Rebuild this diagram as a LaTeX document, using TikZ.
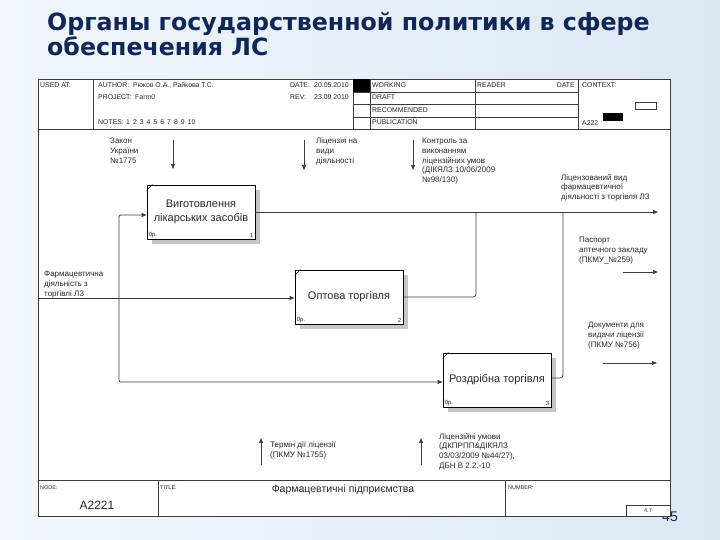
\documentclass[tikz,border=0pt]{standalone}
\usepackage{fontspec}
\setmainfont{Liberation Sans}
\newfontfamily\titlefont{DejaVu Sans}
\usetikzlibrary{arrows.meta,calc,shadows}
\definecolor{bgA}{RGB}{242,246,251}
\definecolor{bgB}{RGB}{221,231,244}
\definecolor{navy}{RGB}{14,38,88}
\definecolor{ln}{RGB}{60,60,60}
\definecolor{tx}{RGB}{40,40,40}
\tikzset{
  func/.style={draw=black, line width=0.9pt, fill=white, minimum width=108pt, minimum height=54pt,
    inner sep=0pt, align=center, font=\fontsize{11}{14}\selectfont, text=tx,
    drop shadow={shadow xshift=5pt, shadow yshift=-5pt, fill=gray!45, opacity=1}},
  lbl/.style={font=\fontsize{8}{9.7}\selectfont, align=left, text=tx, inner sep=0pt, anchor=north west},
  hdr/.style={font=\fontsize{6.9}{8}\selectfont, inner sep=0pt, text=tx, anchor=base west},
  tiny/.style={font=\fontsize{5.5}{6}\selectfont, inner sep=0pt, text=tx, anchor=base west},
  corner/.style={font=\fontsize{6}{7}\selectfont, inner sep=0pt, text=tx},
  arr/.style={draw=ln, line width=0.7pt, -{Triangle[length=5pt,width=4pt]}},
  conn/.style={draw=ln, line width=0.7pt},
  frm/.style={draw=ln, line width=0.8pt},
}
\begin{document}
\begin{tikzpicture}[x=1pt,y=-1pt]
\useasboundingbox (0,0) rectangle (720,540);
\shade[left color=bgA, right color=bgB] (0,0) rectangle (720,540);

% title
\node[anchor=base west, font=\titlefont\bfseries\fontsize{23.7}{25}\selectfont, text=navy, inner sep=0pt] (t1) at (47,31) {Органы государственной политики в сфере};
\node[anchor=base west, font=\titlefont\bfseries\fontsize{23.7}{25}\selectfont, text=navy, inner sep=0pt] (t2) at (47,56) {обеспечения ЛС};

% page number (partly hidden)
\node[anchor=base east, font=\fontsize{14}{16}\selectfont, text=navy, inner sep=0pt] (pg) at (678,521) {45};

% frame
\fill[white] (38,79) rectangle (670,516);
\draw[frm] (38,79) rectangle (670,516);
% header
\draw[frm] (38,129) -- (670,129);
\draw[frm] (93,79) -- (93,129);
\draw[frm] (353,79) -- (353,129);
\draw[frm] (370,79) -- (370,129);
\draw[frm] (475,79) -- (475,129);
\draw[frm] (578,79) -- (578,129);
\foreach \yy in {92,104,117} { \draw[frm] (353,\yy) -- (578,\yy); }
\fill[black] (353,79) rectangle (370,92);
\draw[frm] (635,102) rectangle (656,109);
\fill[black] (603,113) rectangle (623,121);

\node[hdr] (h1) at (40,88) {USED AT:};
\node[hdr] (h2) at (98,88) {AUTHOR:};
\node[hdr] (h3) at (133,88) {Рюков О.А., Райкова Т.С.};
\node[hdr] (h4) at (98,100) {PROJECT:};
\node[hdr] (h5) at (135,100) {Farm0};
\node[hdr] (h6) at (98,125) {NOTES:};
\node[hdr] (h7) at (126,125) {1\hspace{3pt}2\hspace{3pt}3\hspace{3pt}4\hspace{3pt}5\hspace{3pt}6\hspace{3pt}7\hspace{3pt}8\hspace{3pt}9\hspace{3pt}10};
\node[hdr] (h8) at (290,88) {DATE:};
\node[hdr] (h9) at (314,88) {20.05.2010};
\node[hdr] (h10) at (290,100) {REV:};
\node[hdr] (h11) at (314,100) {23.09.2010};
\node[hdr] (h12) at (372,88) {WORKING};
\node[hdr] (h13) at (372,100) {DRAFT};
\node[hdr] (h14) at (372,113) {RECOMMENDED};
\node[hdr] (h15) at (372,125) {PUBLICATION};
\node[hdr] (h16) at (477,88) {READER};
\node[hdr, anchor=base east] (h17) at (575,88) {DATE};
\node[hdr] (h18) at (582,88) {CONTEXT:};
\node[hdr] (h19) at (582,126) {A222};

% footer
\draw[frm] (38,480) -- (670,480);
\draw[frm] (158,480) -- (158,516);
\draw[frm] (505,480) -- (505,516);
\draw[frm] (626,505) rectangle (670,516);
\node[tiny] (f1) at (40,489) {NODE:};
\node[font=\fontsize{12}{14}\selectfont, text=tx, inner sep=0pt] (f2) at (97,505) {A2221};
\node[tiny] (f3) at (160,489) {TITLE:};
\node[font=\fontsize{10.5}{12}\selectfont, text=tx, inner sep=0pt] (f4) at (343,490) {Фармацевтичні підприємства};
\node[tiny] (f5) at (508,489) {NUMBER:};
\node[font=\fontsize{5.5}{6}\selectfont, text=tx, inner sep=0pt] (f6) at (648,510.5) {4.7};

% function boxes
\node[func] (b1) at (201,212) {Виготовлення\\лікарських засобів};
\node[func] (b2) at (349,297) {Оптова торгівля};
\node[func] (b3) at (497,380) {Роздрібна торгівля};
\foreach \b in {b1,b2,b3} {
  \draw[line width=0.5pt] (\b.north west) ++(0,6) -- ++(6,-6);
  \node[corner, anchor=south west] (\b o) at ([shift={(2pt,1.5pt)}]\b.south west) {0p.};
}
\node[corner, anchor=south east] (b1n) at ([shift={(-2pt,1.5pt)}]b1.south east) {1};
\node[corner, anchor=south east] (b2n) at ([shift={(-2pt,1.5pt)}]b2.south east) {2};
\node[corner, anchor=south east] (b3n) at ([shift={(-2pt,1.5pt)}]b3.south east) {3};

% labels
\node[lbl] (L1) at (110,138) {Закон\\України\\№1775};
\node[lbl] (L2) at (316,138) {Ліцензія на\\види\\діяльності};
\node[lbl] (L3) at (422,138) {Контроль за\\виконанням\\ліцензійних умов\\(ДІКЯЛЗ 10/06/2009\\№98/130)};
\node[lbl] (L4) at (44,271) {Фармацевтична\\діяльність з\\торгівлі ЛЗ};
\node[lbl] (L5) at (561,174) {Ліцензований вид\\фармацевтичної\\діяльності з торгівля ЛЗ};
\node[lbl] (L6) at (579,237) {Паспорт\\аптечного закладу\\(ПКМУ\_№259)};
\node[lbl] (L7) at (588,322) {Документи для\\видачи ліцензії\\(ПКМУ №756)};
\node[lbl] (L8) at (270,442) {Термін дії ліцензії\\(ПКМУ №1755)};
\node[lbl] (L9) at (439,433) {Ліцензійні умови\\(ДКПРПП\&ДІКЯЛЗ\\03/03/2009 №44/27),\\ДБН В 2.2.-10};

% control / mechanism / output stubs
\coordinate (c1a) at (173,140); \coordinate (c1b) at (173,169);
\coordinate (c2a) at (304,140); \coordinate (c2b) at (304,170);
\coordinate (c3a) at (413,140); \coordinate (c3b) at (413,170);
\draw[arr] (c1a) -- (c1b);
\draw[arr] (c2a) -- (c2b);
\draw[arr] (c3a) -- (c3b);
\coordinate (m1a) at (261,465); \coordinate (m1b) at (261,438);
\coordinate (m2a) at (421,465); \coordinate (m2b) at (421,438);
\draw[arr] (m1a) -- (m1b);
\draw[arr] (m2a) -- (m2b);
\coordinate (o2a) at (623,272); \coordinate (o2b) at (658,272);
\coordinate (o3a) at (603,363); \coordinate (o3b) at (657,363);
\draw[arr] (o2a) -- (o2b);
\draw[arr] (o3a) -- (o3b);

% inputs
\coordinate (inL) at (38,298);
\coordinate (sp) at (119,298);
\coordinate (b1in) at ([yshift=-3pt]b1.west);
\coordinate (b3in) at ([yshift=-2pt]b3.west);
\draw[arr] (inL) -- (inL -| b2.west);
\draw[arr, rounded corners=2pt] (sp) |- (b1in);
\draw[arr, rounded corners=2pt] (sp) |- (b3in);

% outputs
\coordinate (outR) at (658,212);
\coordinate (j2) at (476,212);
\coordinate (j3) at (563,212);
\coordinate (b3out) at ([yshift=2pt]b3.east);
\draw[arr] (b1.east) -- (outR);
\draw[conn, rounded corners=3pt] (b2.east) -| (j2);
\draw[conn, rounded corners=3pt] (b3out) -| (j3);
\end{tikzpicture}
\end{document}
